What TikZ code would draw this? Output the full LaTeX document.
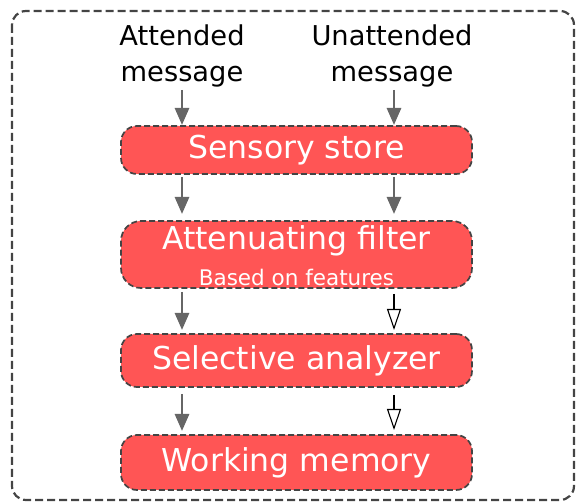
\documentclass[tikz,border=0pt]{standalone}
\usepackage{fontspec}
\setmainfont{DejaVu Sans}
\usetikzlibrary{arrows.meta}
\definecolor{boxred}{HTML}{FF5555}
\definecolor{edgegray}{HTML}{444444}
\definecolor{arrowgray}{HTML}{666666}
\tikzset{
  stage/.style={draw=edgegray, fill=boxred, line width=1.7pt, dash pattern=on 6pt off 3pt,
    rounded corners=16pt, minimum width=351pt, text=white, font=\fontsize{31.5}{33}\selectfont,
    inner sep=0pt, align=center},
  msgtext/.style={font=\fontsize{27.3}{36}\selectfont, align=center, text=black},
  solidflow/.style={draw=arrowgray, line width=2.8pt, -{Triangle[length=17pt,width=14pt]}},
  weakflow/.style={draw=black, line width=1.1pt, -{Triangle[open,length=21pt,width=14pt,line width=1.1pt]}},
}
\begin{document}
\begin{tikzpicture}[x=1pt,y=-1pt]
\useasboundingbox (0,0) rectangle (576,502);
% frame
\draw[edgegray, line width=2.2pt, dash pattern=on 8pt off 4pt, rounded corners=14pt]
  (12,11) rectangle (574,500);
% inputs
\node[msgtext] (att) at (182,56) {Attended\\message};
\node[msgtext] (unatt) at (392,56) {Unattended\\message};
% stages
\node[stage, minimum height=48pt] (sens) at (296.5,150) {Sensory store};
\node[stage, minimum height=67pt, rounded corners=20pt] (filt) at (296.5,254.5) {};
\node[font=\fontsize{31.5}{33}\selectfont, text=white] (filtT) at (296.5,241) {Attenuating filter};
\node[font=\fontsize{21.5}{23}\selectfont, text=white] (filtS) at (296.5,277) {Based on features};
\node[stage, minimum height=53pt] (sel) at (296.5,360.5) {Selective analyzer};
\node[stage, minimum height=55pt] (wm) at (296.5,462.5) {Working memory};
% left channel coordinates
\coordinate (a0) at (182,90);  \coordinate (a1) at (182,125);
\coordinate (a2) at (182,177); \coordinate (a3) at (182,214);
\coordinate (a4) at (182,292); \coordinate (a5) at (182,330);
\coordinate (a6) at (182,394); \coordinate (a7) at (182,431);
% right channel coordinates
\coordinate (b0) at (394,90);  \coordinate (b1) at (394,125);
\coordinate (b2) at (394,177); \coordinate (b3) at (394,214);
\coordinate (b4) at (394,294); \coordinate (b5) at (394,330);
\coordinate (b6) at (394,395); \coordinate (b7) at (394,430);
\draw[solidflow] (a0) -- (a1);
\draw[solidflow] (a2) -- (a3);
\draw[solidflow] (a4) -- (a5);
\draw[solidflow] (a6) -- (a7);
\draw[solidflow] (b0) -- (b1);
\draw[solidflow] (b2) -- (b3);
\draw[weakflow] (b4) -- (b5);
\draw[weakflow] (b6) -- (b7);
\end{tikzpicture}
\end{document}
